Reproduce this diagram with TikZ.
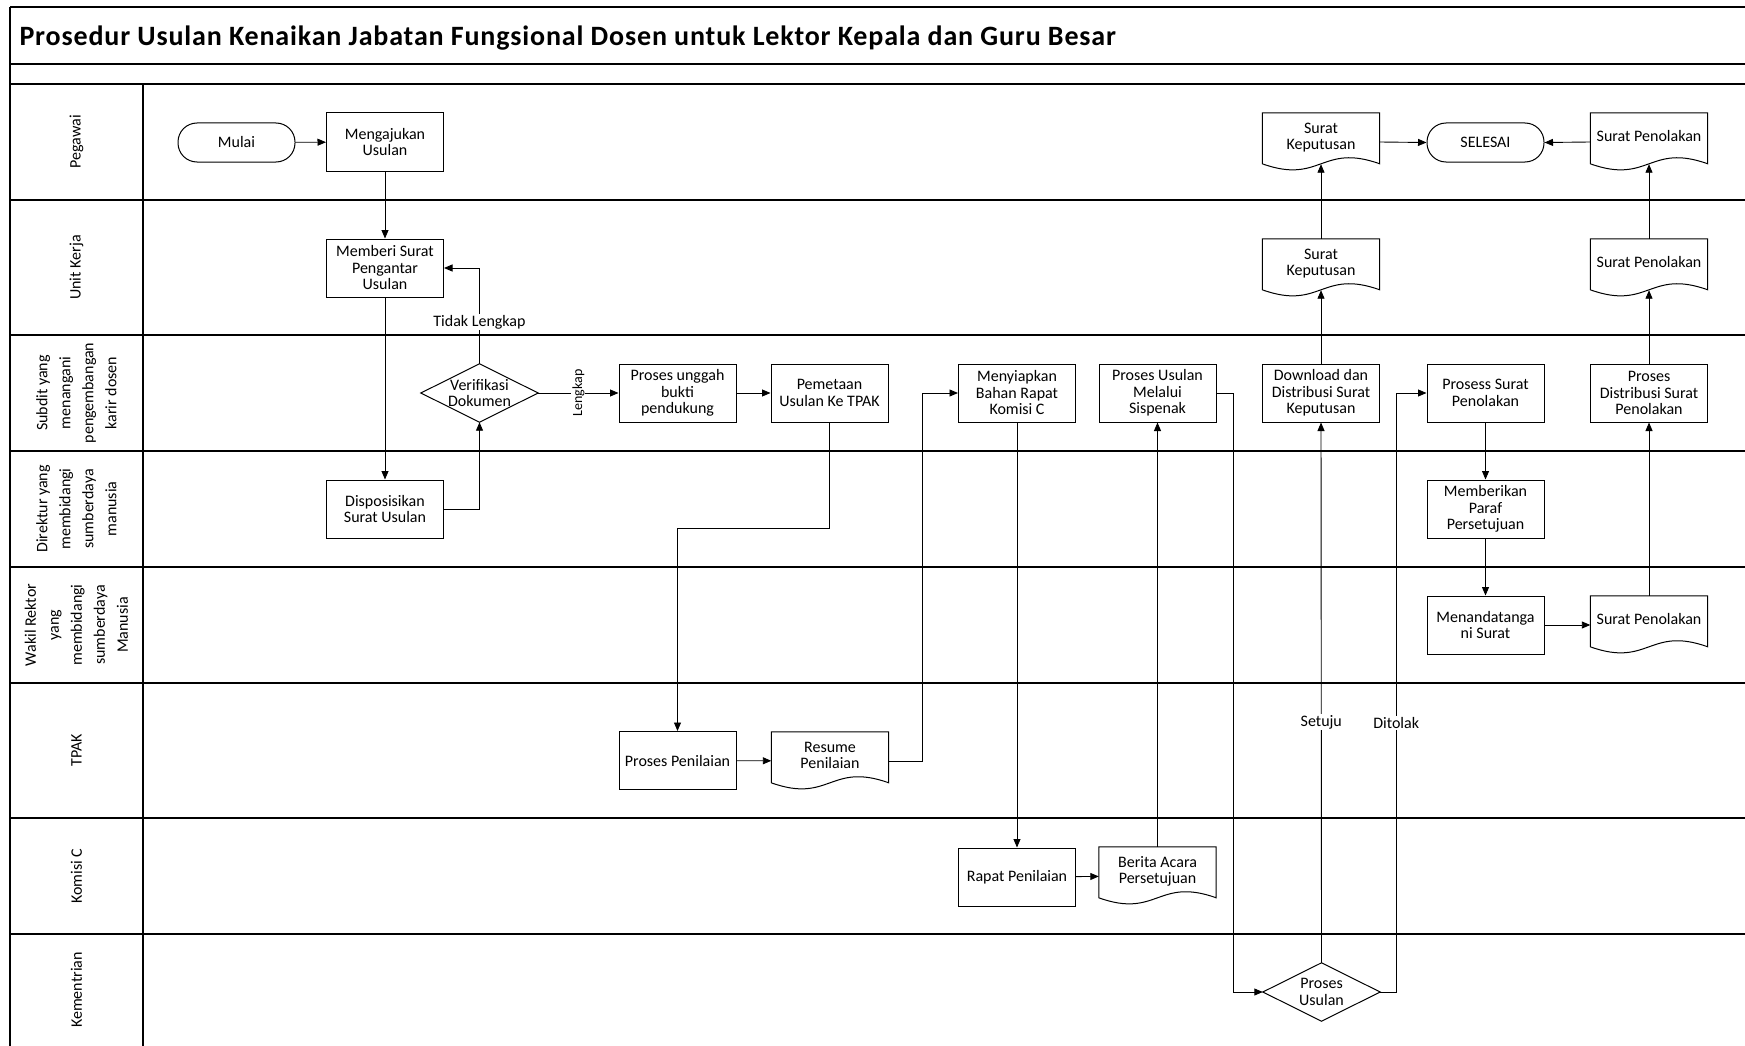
\documentclass[tikz,border=0pt]{standalone}
\usepackage{fontspec}
\setmainfont{Carlito}
\newfontfamily\titlefont[LetterSpace=3]{Carlito}
\usetikzlibrary{arrows.meta}
\newcommand\dtext[1]{\raisebox{-0.5pt}[0pt][0pt]{\begin{tabular}{@{}c@{}}#1\end{tabular}}}
\begin{document}
\begin{tikzpicture}[x=1pt,y=-1pt,
  every node/.style={font=\fontsize{16}{16.5}\selectfont},
  box/.style={draw, line width=1pt, rectangle, minimum width=117pt, minimum height=58pt, inner sep=1pt, align=center},
  term/.style={draw, line width=1pt, rectangle, rounded corners=19pt, minimum width=117pt, minimum height=39pt, align=center},
  dec/.style={rectangle, minimum width=117pt, minimum height=58pt, inner sep=0pt, align=center},
  doc/.style={rectangle, minimum width=117pt, minimum height=58pt, inner sep=0pt},
  shapeline/.style={line width=1pt},
  conn/.style={line width=0.9pt, -{Triangle[length=8.5pt,width=7pt]}},
  lbl/.style={fill=white, inner sep=1pt},
  lane/.style={line width=1.4pt},
  lanelabel/.style={rotate=90, align=center, font=\fontsize{16}{23}\selectfont}
]
\useasboundingbox (0,0) rectangle (1745,1046);
\fill[white] (0,0) rectangle (1745,1046);

% pool and lanes
\draw[lane] (10,7) -- (1745,7);
\draw[lane] (10,7) -- (10,1046);
\draw[lane] (143,84) -- (143,1046);
\foreach \yy in {64,84,200,335,451,567,683,818,934}
  \draw[lane] (10,\yy) -- (1745,\yy);

\node[anchor=base west, font=\fontsize{28}{32}\selectfont\titlefont\bfseries] (title) at (16,46)
  {Prosedur Usulan Kenaikan Jabatan Fungsional Dosen untuk Lektor Kepala dan Guru Besar};

\node[lanelabel] (l1) at (76.5,142) {Pegawai};
\node[lanelabel] (l2) at (76.5,267.5) {Unit Kerja};
\node[lanelabel] (l3) at (76.5,393) {Subdit yang\\menangani\\pengembangan\\karir dosen};
\node[lanelabel] (l4) at (76.5,509) {Direktur yang\\membidangi\\sumberdaya\\manusia};
\node[lanelabel] (l5) at (76.5,625) {Wakil Rektor\\yang\\membidangi\\sumberdaya\\Manusia};
\node[lanelabel] (l6) at (76.5,750.5) {TPAK};
\node[lanelabel] (l7) at (76.5,876) {Komisi C};
\node[lanelabel] (l8) at (76.5,990) {Kementrian};

% nodes
\node[term] (mulai) at (236.5,142.5) {Mulai};
\node[box] (mengajukan) at (385,142) {Mengajukan\\Usulan};
\node[box] (memberi) at (385,268) {Memberi Surat\\Pengantar\\Usulan};
\node[dec] (verif) at (479.5,393) {Verifikasi\\Dokumen};
\node[box] (dispos) at (385,509) {Disposisikan\\Surat Usulan};
\node[box] (unggah) at (677.5,393) {Proses unggah\\bukti\\pendukung};
\node[box] (pemetaan) at (829.5,393) {Pemetaan\\Usulan Ke TPAK};
\node[box] (penilaian) at (677.5,760.5) {Proses Penilaian};
\node[doc] (resume) at (830,761) {\dtext{Resume\\Penilaian}};
\node[box] (menyiapkan) at (1017,393) {Menyiapkan\\Bahan Rapat\\Komisi C};
\node[box] (sispenak) at (1157.5,393) {Proses Usulan\\Melalui\\Sispenak};
\node[box] (rapat) at (1017,877) {Rapat Penilaian};
\node[doc] (berita) at (1157.5,876) {\dtext{Berita Acara\\Persetujuan}};
\node[dec] (prosesusulan) at (1321.5,992) {Proses\\Usulan};
\node[box] (download) at (1321,393) {Download dan\\Distribusi Surat\\Keputusan};
\node[doc] (skunit) at (1321,268) {\dtext{Surat\\Keputusan}};
\node[doc] (skpeg) at (1321,142) {\dtext{Surat\\Keputusan}};
\node[term] (selesai) at (1485.5,142.5) {SELESAI};
\node[doc] (spp) at (1649,142) {\dtext{Surat Penolakan}};
\node[doc] (spunit) at (1649,268) {\dtext{Surat Penolakan}};
\node[box] (prosessurat) at (1485.5,393) {Prosess Surat\\Penolakan};
\node[box] (distribusi) at (1649,393) {Proses\\Distribusi Surat\\Penolakan};
\node[box] (paraf) at (1485.5,509) {Memberikan\\Paraf\\Persetujuan};
\node[box] (tandatangan) at (1485.5,625) {Menandatanga\\ni Surat};
\node[doc] (spwakil) at (1649,625) {\dtext{Surat Penolakan}};

% outlines of decision and document shapes
\foreach \n in {verif,prosesusulan}
  \draw[shapeline] (\n.north) -- (\n.east) -- (\n.south) -- (\n.west) -- cycle;
\foreach \n in {skpeg,skunit,spp,spunit,spwakil,resume,berita}
  \draw[shapeline] (\n.north west) -- (\n.north east) -- ([yshift=-51pt]\n.north east)
    .. controls ([xshift=-58.5pt,yshift=-30pt]\n.north east) and ([xshift=58.5pt,yshift=-72pt]\n.north west)
    .. ([yshift=-51pt]\n.north west) -- cycle;

% connectors
\draw[conn] (mulai) -- (mengajukan);
\draw[conn] (mengajukan) -- (memberi);
\draw[conn] (memberi) -- (dispos);
\draw[conn] (dispos.east) -| (verif.south);
\draw[conn] (verif.north) |- node[lbl, pos=0.219] {Tidak Lengkap} (memberi.east);
\draw[conn] (verif.east) -- node[lbl, rotate=90, font=\fontsize{14}{16}\selectfont] {Lengkap} (unggah.west);
\draw[conn] (unggah) -- (pemetaan);
\draw[conn] (pemetaan.south) -- ++(0,106) -| (penilaian.north);
\draw[conn] (penilaian) -- (resume);
\draw[conn] (resume.east) -- ++(34,0) |- (menyiapkan.west);
\draw[conn] (menyiapkan) -- (rapat);
\draw[conn] (rapat) -- (berita);
\draw[conn] (berita.north) -- (sispenak.south);
\draw[conn] (sispenak.east) -- ++(17,0) |- (prosesusulan.west);
\draw[conn] (prosesusulan.north) -- node[lbl, pos=0.445] {Setuju} (download.south);
\draw[conn] (prosesusulan.east) -- ++(16,0) |- node[lbl, pos=0.2245] {Ditolak} (prosessurat.west);
\draw[conn] (download.north) -- ([yshift=7pt]skunit.south);
\draw[conn] (skunit.north) -- ([yshift=7pt]skpeg.south);
\draw[conn] (skpeg.east) -- (selesai.west);
\draw[conn] (spp.west) -- (selesai.east);
\draw[conn] (prosessurat) -- (paraf);
\draw[conn] (paraf) -- (tandatangan);
\draw[conn] (tandatangan) -- (spwakil);
\draw[conn] (spwakil.north) -- (distribusi.south);
\draw[conn] (distribusi.north) -- ([yshift=7pt]spunit.south);
\draw[conn] (spunit.north) -- ([yshift=7pt]spp.south);
\end{tikzpicture}
\end{document}
